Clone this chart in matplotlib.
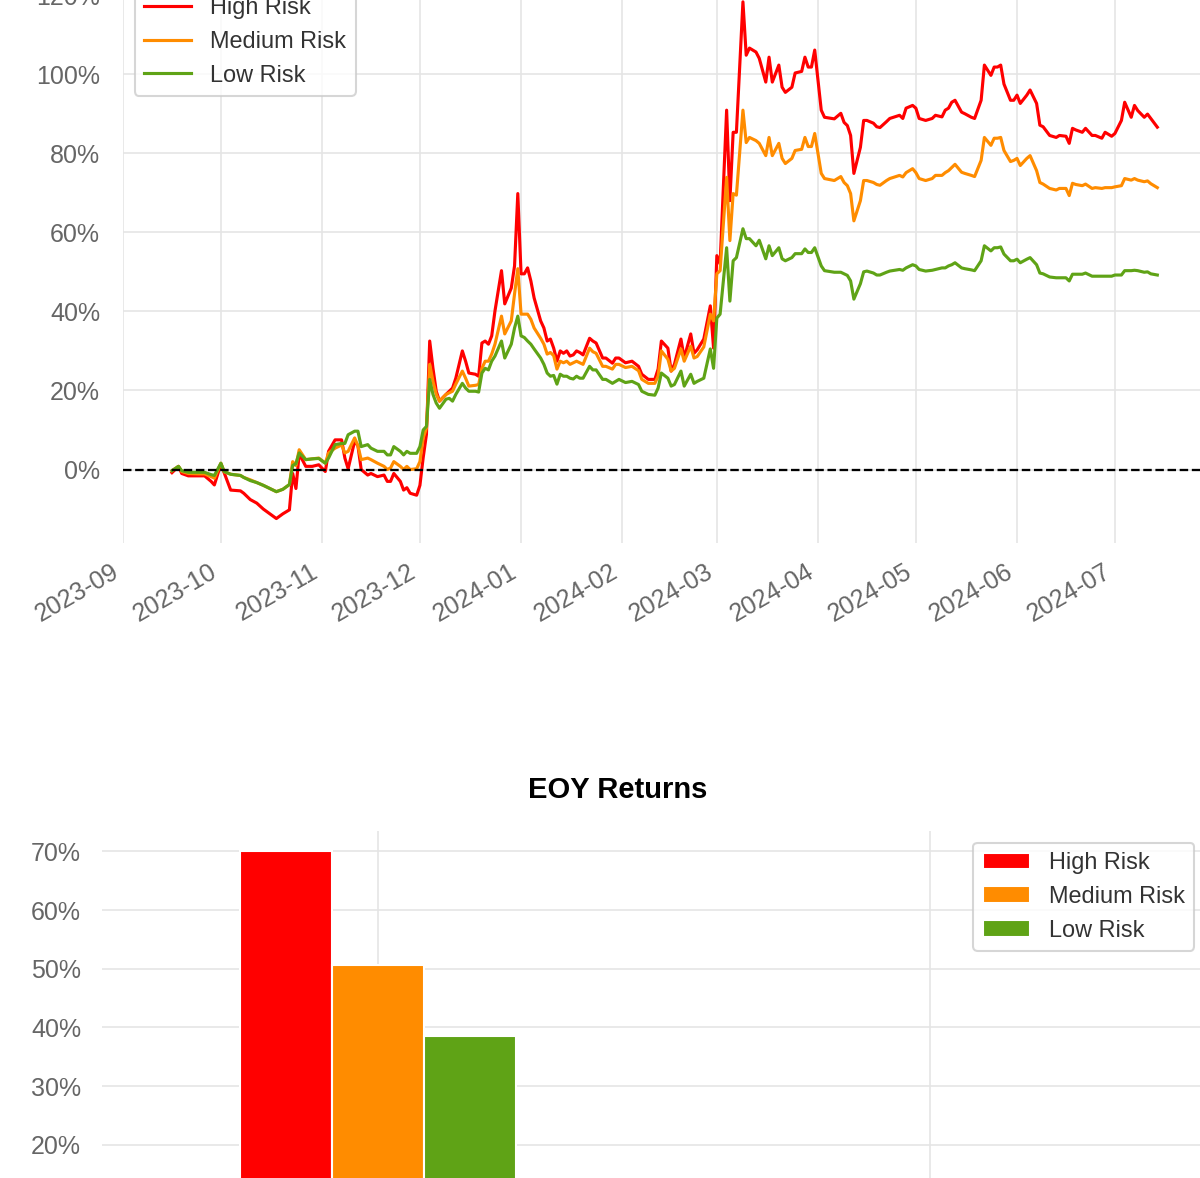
import matplotlib
matplotlib.use('Agg')
import matplotlib.pyplot as plt
import matplotlib.dates as mdates
import matplotlib.ticker as mticker
import numpy as np
import pandas as pd

plt.rcParams['font.family'] = ['Liberation Sans', 'DejaVu Sans']

# Cumulative returns (%); days counted from 2023-09-01
start = pd.Timestamp('2023-09-01')
days = [15, 17, 18, 20, 23, 25, 27, 28, 30, 31, 33, 36, 37, 39, 41, 43, 45, 47, 49, 51,
        52, 53, 54, 56, 58, 60, 62, 63, 65, 67, 68, 69, 71, 72, 73, 75, 76, 78, 80, 81,
        82, 83, 85, 86, 87, 88, 90, 91, 92, 93, 94, 95, 96, 97, 99, 100, 101, 102, 104, 105,
        106, 108, 109, 110, 111, 112, 113, 114, 116, 117, 119, 120, 121, 122, 123, 124, 125, 126, 128, 129,
        130, 131, 132, 133, 134, 135, 136, 137, 138, 139, 140, 141, 143, 144, 145, 147, 148, 150, 151, 152,
        154, 156, 158, 159, 161, 163, 164, 165, 167, 168, 169, 171, 172, 174, 175, 176, 178, 180, 181, 182,
        183, 185, 186, 187, 188, 190, 191, 192, 194, 195, 197, 198, 199, 201, 202, 203, 205, 206, 208, 209,
        210, 211, 212, 214, 215, 218, 220, 221, 222, 223, 224, 226, 227, 228, 230, 231, 232, 234, 235, 238,
        239, 240, 242, 243, 244, 246, 248, 249, 251, 252, 253, 254, 255, 257, 258, 260, 261, 263, 264, 266,
        267, 268, 269, 270, 272, 273, 274, 275, 277, 278, 280, 281, 282, 284, 286, 287, 289, 290, 291, 292,
        294, 295, 297, 298, 300, 301, 303, 304, 306, 307, 309, 310, 311, 313, 314, 315, 317]

high_risk = [-0.8, 0.8, -1.0, -1.6, -1.6, -1.6, -3.0, -3.9, 1.4, -0.8, -5.2, -5.4, -6.0, -7.6, -8.5, -10.0, -11.2, -12.4, -11.2, -10.2,
             -1.0, -4.8, 4.0, 0.8, 0.8, 1.2, -0.5, 4.6, 7.5, 7.5, 2.9, 0.2, 7.2, 6.0, 0.0, -1.4, -1.0, -1.8, -1.4, -3.0,
             -3.0, -1.0, -3.0, -5.2, -4.6, -6.0, -6.5, -4.0, 3.0, 8.9, 32.5, 25.6, 19.8, 17.3, 19.0, 19.8, 20.6, 23.1, 30.0, 27.4,
             24.4, 24.1, 23.6, 32.0, 32.5, 31.7, 33.8, 40.1, 50.3, 41.9, 45.9, 51.5, 69.8, 49.5, 49.5, 51.0, 47.7, 43.4, 37.6, 35.8,
             32.5, 33.0, 30.7, 27.4, 30.0, 29.4, 30.0, 28.7, 29.0, 30.0, 29.6, 29.0, 33.2, 32.5, 32.0, 28.2, 28.2, 26.9, 28.2, 28.2,
             27.0, 27.4, 26.1, 24.1, 22.8, 22.8, 25.4, 32.5, 30.7, 24.9, 26.6, 33.0, 28.2, 34.3, 29.4, 30.3, 33.0, 41.4, 30.7, 54.1,
             52.0, 90.9, 68.0, 85.3, 85.3, 118.3, 104.8, 106.6, 105.6, 104.0, 98.0, 104.3, 98.0, 102.3, 96.7, 95.4, 96.7, 100.3, 100.7, 104.3,
             101.8, 101.8, 106.1, 90.9, 89.1, 88.7, 90.1, 87.8, 87.0, 84.5, 74.9, 81.5, 88.3, 88.3, 87.6, 86.7, 86.5, 88.0, 88.8, 89.6,
             88.8, 91.4, 92.1, 91.4, 88.8, 88.3, 88.8, 89.6, 89.2, 90.9, 91.4, 92.9, 93.4, 90.4, 90.0, 89.1, 88.8, 93.4, 102.3, 99.7,
             101.8, 101.8, 102.3, 97.5, 93.4, 93.4, 94.7, 92.6, 94.7, 96.0, 92.6, 87.1, 86.7, 84.5, 84.0, 84.5, 84.3, 82.5, 86.3, 85.9,
             85.3, 86.3, 84.5, 84.5, 83.8, 85.3, 84.3, 85.0, 88.3, 92.9, 89.1, 92.1, 90.8, 89.1, 89.9, 88.8, 86.6]

medium_risk = [-0.3, 0.8, -0.5, -1.0, -1.1, -1.1, -1.8, -2.2, 1.6, -0.6, -1.2, -1.5, -2.0, -2.6, -3.3, -4.0, -4.8, -5.6, -5.0, -3.8,
               2.0, 1.0, 5.0, 2.5, 2.7, 2.9, 1.6, 4.2, 5.4, 6.2, 4.2, 4.6, 8.0, 6.0, 2.5, 2.9, 2.5, 1.6, 0.8, 0.0,
               0.4, 2.0, 0.8, 0.0, 0.8, 0.0, 0.2, 2.0, 8.0, 10.5, 26.6, 22.3, 19.0, 17.3, 19.0, 19.4, 19.8, 21.6, 24.9, 23.1,
               21.1, 21.3, 21.5, 25.6, 27.4, 27.4, 29.2, 31.7, 38.8, 34.3, 37.6, 44.4, 50.8, 39.3, 39.3, 39.3, 38.0, 35.8, 33.2, 31.7,
               29.2, 29.6, 28.8, 25.4, 27.4, 27.0, 27.4, 26.6, 27.0, 27.4, 27.0, 26.6, 30.7, 29.8, 29.4, 26.1, 26.1, 25.4, 26.6, 26.6,
               25.8, 26.1, 25.0, 22.8, 21.8, 21.8, 23.6, 30.0, 27.9, 24.9, 25.6, 30.5, 27.4, 31.2, 28.2, 28.6, 31.0, 39.3, 37.6, 49.5,
               50.3, 73.9, 57.9, 69.8, 69.4, 90.9, 82.7, 84.0, 83.2, 82.5, 79.4, 84.0, 79.4, 82.5, 78.7, 77.4, 78.7, 80.7, 81.0, 84.0,
               81.7, 81.7, 85.0, 74.9, 73.6, 73.1, 74.1, 72.6, 71.8, 69.8, 62.9, 68.0, 73.1, 73.1, 72.6, 72.1, 71.9, 73.1, 73.6, 74.4,
               74.0, 75.1, 76.1, 75.1, 73.6, 73.1, 73.6, 74.4, 74.4, 75.1, 75.6, 76.4, 77.2, 75.2, 74.9, 74.4, 74.1, 78.2, 84.0, 82.0,
               83.8, 83.8, 84.0, 80.7, 77.9, 78.2, 78.7, 76.9, 78.7, 79.4, 75.6, 72.6, 72.2, 71.1, 70.7, 71.1, 71.1, 69.3, 72.4, 72.1,
               71.8, 72.2, 71.1, 71.3, 71.1, 71.3, 71.3, 71.5, 71.8, 73.6, 73.2, 73.6, 73.2, 72.8, 73.0, 72.3, 71.3]

low_risk = [-0.3, 0.8, -0.3, -0.7, -0.7, -0.7, -1.3, -1.5, 1.6, -0.5, -1.2, -1.5, -2.0, -2.8, -3.3, -4.0, -4.8, -5.6, -5.0, -3.8,
            1.0, 1.5, 4.2, 2.5, 2.7, 2.8, 1.6, 2.9, 6.3, 6.6, 6.6, 8.8, 9.7, 9.7, 5.8, 6.3, 5.4, 4.6, 4.6, 3.7,
            3.7, 5.8, 4.6, 3.7, 4.6, 4.1, 4.1, 5.8, 10.0, 10.9, 22.8, 19.0, 16.8, 15.5, 17.8, 18.0, 17.3, 19.0, 21.8, 20.6,
            19.8, 19.8, 19.6, 24.4, 25.6, 25.2, 27.4, 28.7, 32.5, 28.2, 31.7, 35.8, 38.8, 33.8, 33.4, 32.5, 31.7, 30.5, 28.2, 26.6,
            24.4, 23.6, 23.8, 21.6, 24.1, 23.6, 23.6, 23.1, 22.9, 23.6, 23.1, 23.1, 26.1, 25.2, 25.2, 22.8, 22.8, 21.8, 22.3, 22.8,
            22.0, 22.3, 21.5, 19.8, 19.0, 18.8, 20.6, 24.4, 23.1, 21.1, 21.5, 24.9, 21.1, 24.1, 21.8, 22.3, 23.1, 30.5, 25.6, 38.3,
            39.3, 56.1, 42.6, 52.8, 53.6, 60.9, 58.4, 58.4, 56.6, 58.0, 53.3, 56.6, 54.1, 56.1, 53.3, 52.8, 53.6, 54.6, 54.6, 55.8,
            54.9, 54.9, 56.1, 51.5, 50.3, 49.9, 49.9, 49.5, 49.1, 47.7, 43.1, 47.0, 50.0, 50.2, 49.7, 49.2, 49.2, 49.9, 50.2, 50.6,
            50.4, 51.0, 51.8, 51.5, 50.6, 50.2, 50.4, 50.6, 51.0, 51.0, 51.5, 51.8, 52.3, 51.0, 50.8, 50.5, 50.3, 52.8, 56.6, 55.3,
            56.1, 56.1, 56.3, 54.5, 52.8, 52.8, 53.2, 52.3, 53.2, 53.6, 51.8, 49.7, 49.5, 48.7, 48.5, 48.5, 48.5, 47.7, 49.4, 49.4,
            49.4, 49.7, 48.9, 48.9, 48.9, 48.9, 48.9, 49.2, 49.2, 50.3, 50.3, 50.4, 50.3, 49.9, 50.0, 49.5, 49.2]

# End-of-year returns (%)
years = ['2023', '2024']
eoy_high = [70.0, 9.9]
eoy_medium = [50.7, 13.7]
eoy_low = [38.5, 7.8]

names = ['High Risk', 'Medium Risk', 'Low Risk']
colors = ['#ff0000', '#ff8c00', '#5fa316']
tick_color = '#666666'
grid_color = '#e5e5e5'

dates = start + pd.to_timedelta(days, unit='D')

fig = plt.figure(figsize=(8, 1178 / 150), dpi=150)

# --- cumulative returns ---
ax1 = fig.add_axes([0.1025, 0.539, 0.9, 0.4873])
for vals, name, c in zip([high_risk, medium_risk, low_risk], names, colors):
    ax1.plot(dates, vals, color=c, lw=1.5, label=name)
ax1.axhline(0, color='black', ls='--', lw=1.1)
ax1.set_xlim(pd.Timestamp('2023-09-01'), pd.Timestamp('2024-07-28'))
ax1.set_ylim(-18.6, 126.6)
ax1.xaxis.set_major_locator(mdates.MonthLocator())
ax1.xaxis.set_major_formatter(mdates.DateFormatter('%Y-%m'))
ax1.yaxis.set_major_formatter(mticker.FuncFormatter(lambda v, p: f'{v:.0f}%'))
ax1.tick_params(axis='y', length=0, pad=11, labelsize=12, labelcolor=tick_color)
ax1.tick_params(axis='x', length=0, pad=8, labelsize=12, labelcolor=tick_color)
for lab in ax1.get_xticklabels():
    lab.set_rotation(30)
    lab.set_ha('right')
ax1.grid(True, color=grid_color, lw=0.8)
ax1.set_axisbelow(True)
for s in ax1.spines.values():
    s.set_visible(False)
leg = ax1.legend(loc='upper left', bbox_to_anchor=(0, 0.988), fontsize=11.3,
                 frameon=True, fancybox=True)
leg.get_frame().set_edgecolor('#cccccc')
for t in leg.get_texts():
    t.set_color('#333333')

# --- EOY returns ---
ax2 = fig.add_axes([0.085, -0.0713, 0.92, 0.3659])
x = np.arange(len(years))
w = 0.5 / 3
for i, (vals, name, c) in enumerate(zip([eoy_high, eoy_medium, eoy_low], names, colors)):
    ax2.bar(x + (i - 1) * w, vals, width=w, color=c, edgecolor='white', lw=1, label=name)
ax2.set_xlim(-0.5, 1.5)
ax2.set_ylim(0, 73.5)
ax2.set_xticks(x)
ax2.set_xticklabels(years)
ax2.yaxis.set_major_formatter(mticker.FuncFormatter(lambda v, p: f'{v:.0f}%'))
ax2.tick_params(axis='both', length=0, pad=10, labelsize=12, labelcolor=tick_color)
ax2.grid(True, color=grid_color, lw=0.8)
ax2.set_axisbelow(True)
for s in ax2.spines.values():
    s.set_visible(False)
leg2 = ax2.legend(loc='upper right', fontsize=11.3, frameon=True, fancybox=True)
leg2.get_frame().set_edgecolor('#cccccc')
for t in leg2.get_texts():
    t.set_color('#333333')

fig.text(0.515, 1 - 790 / 1178, 'EOY Returns', ha='center', va='center',
         fontsize=14, fontweight='bold', color='black')

fig.savefig('out.png', dpi=150)
